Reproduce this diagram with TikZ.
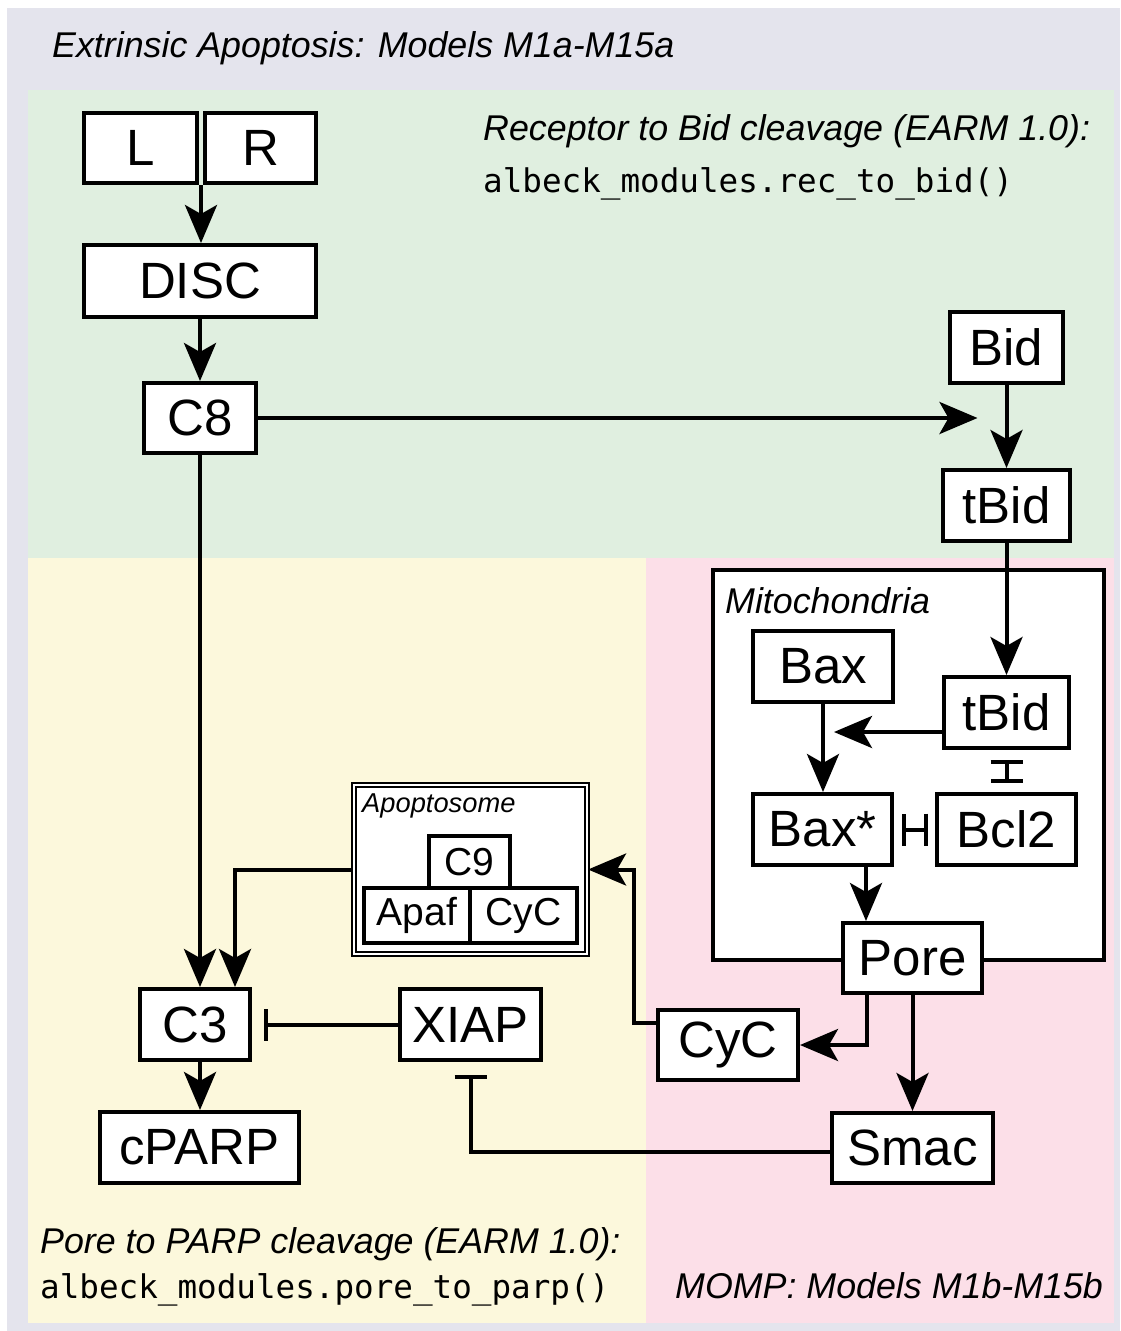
\documentclass[tikz,border=0pt]{standalone}
\usepackage{fontspec}
\setmainfont{Liberation Sans}
\newfontfamily\codefam{DejaVu Sans Mono}
\usetikzlibrary{arrows.meta,calc}

\definecolor{outerbg}{RGB}{228,228,237}
\definecolor{greenbg}{RGB}{224,239,224}
\definecolor{yellowbg}{RGB}{252,248,220}
\definecolor{pinkbg}{RGB}{252,223,232}

\newcommand\nodetxt{\fontsize{51}{60}\selectfont}
\newcommand\smalltxt{\fontsize{39}{46}\selectfont}
\newcommand\labtxt{\fontsize{35.8}{42}\selectfont\itshape}
\newcommand\tinytxt{\fontsize{27.3}{32}\selectfont\itshape}
\newcommand\codetxt{\codefam\fontsize{32.6}{38}\selectfont}

\tikzset{
  species/.style={draw, line width=4pt, fill=white, inner sep=0pt, font=\nodetxt},
  subunit/.style={draw, line width=4pt, fill=white, inner sep=0pt, font=\smalltxt},
  compartment/.style={draw, line width=4pt, fill=white, inner sep=0pt},
  complexbox/.style={draw, line width=2.2pt, double=white, double distance=1.5pt, fill=white, inner sep=0pt},
  caption/.style={anchor=base west, inner sep=0pt, font=\labtxt},
  codeline/.style={anchor=base west, inner sep=0pt, font=\codetxt},
  arr/.style={line width=4pt, -{Stealth[length=38pt,width=32pt,inset=9pt]}},
  inh/.style={line width=4pt, -{Bar[width=32pt]}},
  inhboth/.style={line width=4pt, {Bar[width=32pt]}-{Bar[width=32pt]}},
}

\begin{document}
\begin{tikzpicture}[x=1pt,y=-1pt]
\useasboundingbox (0,0) rectangle (1120,1331);

% module backgrounds
\fill[white] (0,0) rectangle (1120,1331);
\fill[outerbg] (7,8) rectangle (1120,1331);
\fill[greenbg] (28,90) rectangle (1114,558);
\fill[yellowbg] (28,558) rectangle (646,1323);
\fill[pinkbg] (646,558) rectangle (1114,1323);

% module captions
\node[caption] (ttl) at (52,57) {Extrinsic Apoptosis: Models M1a-M15a};
\node[caption] (rtb) at (483,140) {Receptor to Bid cleavage (EARM 1.0):};
\node[codeline] (rtbcode) at (483,192) {albeck\_modules.rec\_to\_bid()};
\node[caption] (ptp) at (40,1253) {Pore to PARP cleavage (EARM 1.0):};
\node[codeline] (ptpcode) at (40,1298) {albeck\_modules.pore\_to\_parp()};
\node[caption] (momp) at (675,1298) {MOMP: Models M1b-M15b};

% compartments
\node[compartment, minimum width=391pt, minimum height=390pt] (mito) at (908.5,765) {};
\node[caption] (mitolab) at (725,613) {Mitochondria};
\node[complexbox, minimum width=233pt, minimum height=169pt] (apo) at (470.5,869.5) {};
\node[anchor=base west, inner sep=0pt, font=\tinytxt] (apolab) at (362,812) {Apoptosome};

% receptor module species
\node[species, minimum width=113pt, minimum height=70pt] (L) at (140.5,148) {L};
\node[species, minimum width=111pt, minimum height=70pt] (R) at (260.5,148) {R};
\node[species, minimum width=232pt, minimum height=72pt] (DISC) at (200,281) {DISC};
\node[species, minimum width=112pt, minimum height=70pt] (C8) at (200,418) {C8};
\node[species, minimum width=113pt, minimum height=71pt] (Bid) at (1006.5,347.5) {Bid};
\node[species, minimum width=127pt, minimum height=71pt] (tBidA) at (1006.5,505.5) {tBid};

% MOMP species
\node[species, minimum width=140pt, minimum height=71pt] (Bax) at (823,666.5) {Bax};
\node[species, minimum width=125pt, minimum height=71pt] (tBidB) at (1006.5,712.5) {tBid};
\node[species, minimum width=139pt, minimum height=71pt] (BaxA) at (822.5,829.5) {Bax*};
\node[species, minimum width=139pt, minimum height=71pt] (Bcl2) at (1006.5,829.5) {Bcl2};
\node[species, minimum width=139pt, minimum height=70pt] (Pore) at (912.5,958) {Pore};
\node[species, minimum width=140pt, minimum height=70pt] (CyC) at (728,1045) {CyC};
\node[species, minimum width=161pt, minimum height=70pt] (Smac) at (912.5,1148) {Smac};

% pore to PARP species
\node[subunit, minimum width=81pt, minimum height=52pt] (C9) at (469.5,862) {C9};
\node[subunit, minimum width=106pt, minimum height=55pt] (Apaf) at (417,915.5) {Apaf};
\node[subunit, minimum width=107pt, minimum height=55pt] (CyCapo) at (523.5,915.5) {CyC};
\node[species, minimum width=141pt, minimum height=71pt] (XIAP) at (470.5,1024.5) {XIAP};
\node[species, minimum width=110pt, minimum height=71pt] (C3) at (195,1024.5) {C3};
\node[species, minimum width=199pt, minimum height=71pt] (cPARP) at (199.5,1147.5) {cPARP};

% reactions
\coordinate (LRjoin) at ($(L.south east)!0.5!(R.south west)$);
\draw[arr] (LRjoin) -- (LRjoin |- DISC.north);
\draw[arr] (DISC) -- (C8);
\draw[arr, shorten >=29pt] (C8.east) -- (C8.east -| Bid.south);
\draw[arr] (Bid) -- (tBidA);
\draw[arr] (tBidA) -- (tBidB);
\draw[arr, shorten >=11pt] ([yshift=-19.5pt]tBidB.west) -- ([yshift=-19.5pt]tBidB.west -| Bax.south);
\draw[arr] (Bax) -- (Bax |- BaxA.north);
\draw[inhboth, shorten <=10pt, shorten >=9pt] (tBidB) -- (Bcl2);
\draw[inhboth, shorten <=8pt, shorten >=7pt] (BaxA) -- (Bcl2);
\draw[arr] ([xshift=43.5pt]BaxA.south) -- ([xshift=43.5pt]BaxA.south |- Pore.north);
\draw[arr] ([xshift=-45.5pt]Pore.south) |- (CyC.east);
\draw[arr] (Pore) -- (Smac);
\draw[arr] ([yshift=22pt]CyC.west) -- ++(-22pt,0) |- (apo.east);
\draw[arr] (apo.west) -| ([xshift=40pt]C3.north);
\draw[arr] (C8.south) -- (C8.south |- C3.north);
\draw[inh, shorten >=12pt] (XIAP.west) -- (XIAP.west -| C3.east);
\draw[inh, shorten >=13pt] ([yshift=-4pt]Smac.west) -| (XIAP.south);
\draw[arr] ([xshift=5pt]C3.south) -- ([xshift=5pt]C3.south |- cPARP.north);
\end{tikzpicture}
\end{document}
